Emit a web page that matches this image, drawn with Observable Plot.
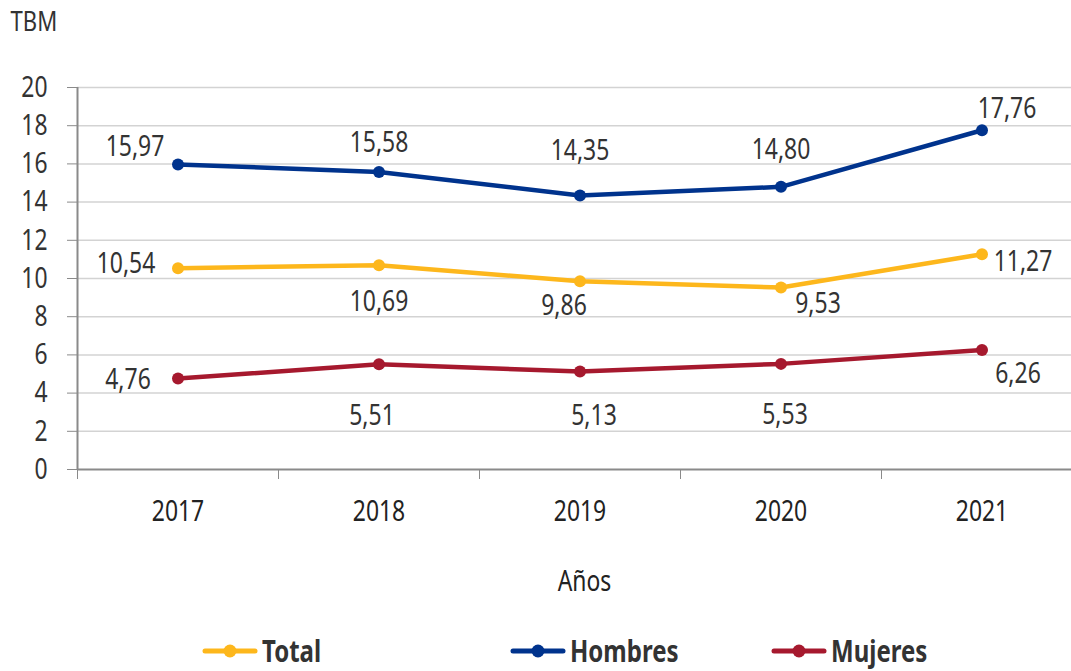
<!DOCTYPE html>
<html>
<head>
<meta charset="utf-8">
<script src="https://cdn.jsdelivr.net/npm/d3@7"></script>
<script src="https://cdn.jsdelivr.net/npm/@observablehq/plot@0.6"></script>
<style>
  html, body { margin: 0; padding: 0; background: #fff; }
  #wrap { position: relative; width: 1071px; height: 671px; overflow: hidden; font-family: 'Noto Sans', 'DejaVu Sans', sans-serif; }
  .leg { position: absolute; top: 636px; height: 30px; display: flex; align-items: center; }
  .leg span { display: inline-block; font-weight: bold; font-size: 30px; color: #333; margin-left: 4px; line-height: 30px; transform: scaleX(0.8); transform-origin: left center; }
</style>
</head>
<body>
<div id="wrap"></div>
<script>
const years = [2017, 2018, 2019, 2020, 2021];
const total = [10.54, 10.69, 9.86, 9.53, 11.27];
const hombres = [15.97, 15.58, 14.35, 14.80, 17.76];
const mujeres = [4.76, 5.51, 5.13, 5.53, 6.26];
const series = ["Total", "Hombres", "Mujeres"];
const colors = ["#FDB71C", "#00338D", "#A6192E"];
const yTicks = [0, 2, 4, 6, 8, 10, 12, 14, 16, 18, 20];
const yTitle = "TBM";
const xTitle = "Años";

const values = [total, hombres, mujeres];
const rows = series.flatMap((s, i) => years.map((yr, j) => ({series: s, year: yr, value: values[i][j]})));
const fmt = v => v.toFixed(2).replace(".", ",");

// label placement offsets (pixels), per series, per year
const labelOffsets = {
  Total:   [[-52, -4], [0, 36], [-16, 25], [37, 16], [41, 7]],
  Hombres: [[-43, -18], [0, -29], [0, -45], [0, -37], [25, -22]],
  Mujeres: [[-50, 1], [-7, 51], [14, 44], [4, 51], [36, 24]]
};

const boundaries = years.map(y => y - 0.5).concat([years[years.length - 1] + 0.5]);

const labelMarks = rows.map(r => {
  const j = years.indexOf(r.year);
  const [dx, dy] = labelOffsets[r.series][j];
  return Plot.text([r], {x: "year", y: "value", text: d => fmt(d.value), dx, dy, fill: "#333", fontSize: 29, lineAnchor: "middle"});
});

const chart = Plot.plot({
  width: 1071,
  height: 610,
  marginLeft: 77,
  marginRight: 0,
  marginTop: 87,
  marginBottom: 141,
  style: {fontFamily: "'Noto Sans', 'DejaVu Sans', sans-serif", fontSize: "29px", background: "white", overflow: "visible"},
  x: {domain: [boundaries[0], boundaries[boundaries.length - 1]], range: [77, 1082]},
  y: {domain: [0, 20]},
  color: {domain: series, range: colors},
  marks: [
    Plot.ruleY(yTicks.filter(d => d > 0), {stroke: "#d3d3d3", strokeWidth: 1.5}),
    Plot.axisY({ticks: yTicks, tickSize: 10, tickFormat: () => "", color: "#8a8a8a", label: null}),
    Plot.axisY({ticks: yTicks, tickSize: 0, tickPadding: 30, tickFormat: d => String(d), color: "#333", label: null, fontSize: 29}),
    Plot.ruleX([boundaries[0]], {stroke: "#8a8a8a", strokeWidth: 2}),
    Plot.ruleY([0], {stroke: "#8a8a8a", strokeWidth: 2}),
    Plot.axisX({ticks: boundaries, tickSize: 10, tickFormat: () => "", color: "#8a8a8a", label: null}),
    Plot.axisX({ticks: years, tickSize: 0, tickPadding: 31, tickFormat: d => String(d), color: "#222", label: null, fontSize: 29}),
    Plot.text([xTitle], {frameAnchor: "bottom", dx: 10, dy: 112, fill: "#222", fontSize: 29, lineAnchor: "middle"}),
    Plot.text([yTitle], {frameAnchor: "top-left", textAnchor: "start", dx: -67, dy: -65, fill: "#333", fontSize: 28, lineAnchor: "middle"}),
    Plot.line(rows, {x: "year", y: "value", z: "series", stroke: "series", strokeWidth: 4.5}),
    Plot.dot(rows, {x: "year", y: "value", fill: "series", r: 6}),
    ...labelMarks
  ]
});

const wrap = document.getElementById("wrap");
wrap.appendChild(chart);

// condense the glyphs horizontally to approximate the narrow typeface of the original
chart.querySelectorAll("text").forEach(t => {
  if (!t.textContent) return;
  const len = t.getComputedTextLength();
  if (len > 0) {
    t.setAttribute("textLength", (len * 0.79).toFixed(1));
    t.setAttribute("lengthAdjust", "spacingAndGlyphs");
  }
});

const legendLefts = [202, 510, 771];
series.forEach((s, i) => {
  const item = document.createElement("div");
  item.className = "leg";
  item.style.left = legendLefts[i] + "px";
  const ns = "http://www.w3.org/2000/svg";
  const sw = document.createElementNS(ns, "svg");
  sw.setAttribute("width", "56");
  sw.setAttribute("height", "16");
  const ln = document.createElementNS(ns, "line");
  ln.setAttribute("x1", "3"); ln.setAttribute("x2", "53");
  ln.setAttribute("y1", "8"); ln.setAttribute("y2", "8");
  ln.setAttribute("stroke", colors[i]); ln.setAttribute("stroke-width", "5");
  ln.setAttribute("stroke-linecap", "round");
  const c = document.createElementNS(ns, "circle");
  c.setAttribute("cx", "28"); c.setAttribute("cy", "8"); c.setAttribute("r", "6.5");
  c.setAttribute("fill", colors[i]);
  sw.appendChild(ln); sw.appendChild(c);
  const t = document.createElement("span");
  t.textContent = s;
  item.appendChild(sw); item.appendChild(t);
  wrap.appendChild(item);
});
</script>
</body>
</html>
